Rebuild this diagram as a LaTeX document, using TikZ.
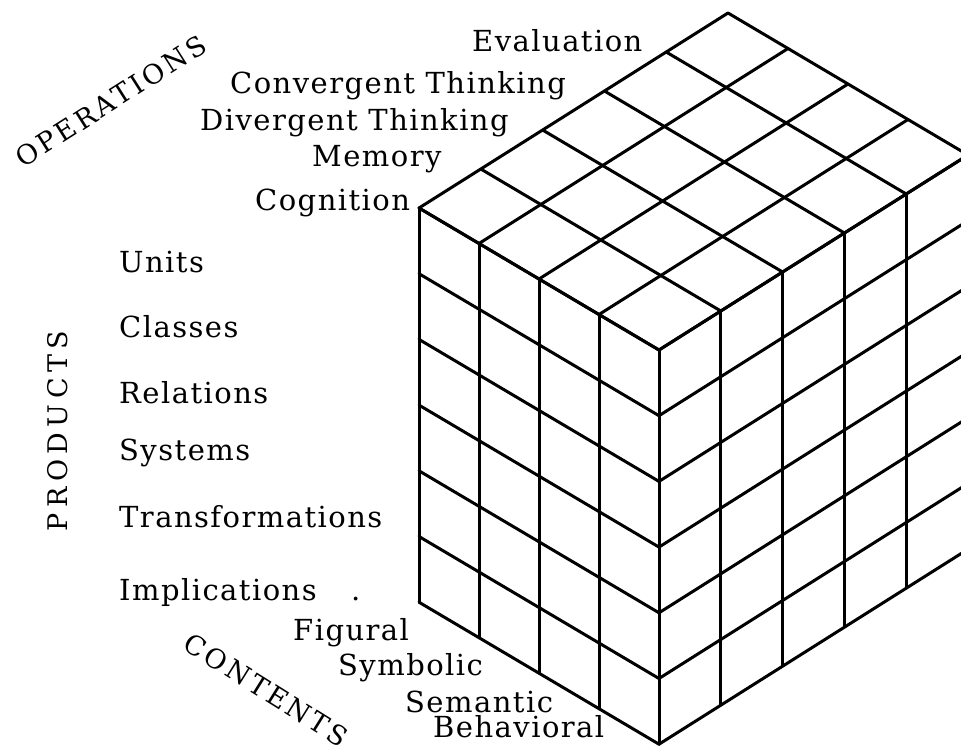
\documentclass[tikz,border=0pt]{standalone}
\usepackage{fontspec}
\setmainfont{DejaVu Serif}[LetterSpace=5]
\newfontfamily\capsfont{DejaVu Serif}[LetterSpace=12]
\newfontfamily\prodfont{DejaVu Serif}[LetterSpace=20]
\begin{document}
\begin{tikzpicture}[x=1pt,y=-1pt,
  grid/.style={line width=3pt, line cap=round, line join=round, black},
  lab/.style={anchor=base west, inner sep=0pt, font=\fontsize{29}{33}\selectfont},
  axislab/.style={inner sep=0pt, font=\capsfont\fontsize{27}{30}\selectfont},
  prodlab/.style={inner sep=0pt, font=\prodfont\fontsize{27}{30}\selectfont}]
\useasboundingbox (0,0) rectangle (961,750);
\begin{scope}
\clip (0,0) rectangle (961,750);
% top face
\foreach \i in {0,...,4} \draw[grid] ({659-60*\i},{350-35.5*\i}) -- ++(309,-195);
\foreach \j in {0,...,5} \draw[grid] ({659+61.8*\j},{350-39*\j}) -- ++(-240,-142);
% left face
\foreach \i in {0,...,4} \draw[grid] ({659-60*\i},{350-35.5*\i}) -- ++(0,394);
\foreach \k in {0,...,6} \draw[grid] (659,{350+65.7*\k}) -- ++(-240,-142);
% right face
\foreach \j in {0,...,5} \draw[grid] ({659+61.8*\j},{350-39*\j}) -- ++(0,394);
\foreach \k in {0,...,6} \draw[grid] (659,{350+65.7*\k}) -- ++(309,-195);
\end{scope}
% operations
\node[lab] (eval) at (472,51) {Evaluation};
\node[lab] (conv) at (230,93) {Convergent Thinking};
\node[lab] (div) at (200,130) {Divergent Thinking};
\node[lab] (mem) at (312,166) {Memory};
\node[lab] (cog) at (255,210) {Cognition};
% products
\node[lab] (units) at (119,272) {Units};
\node[lab] (classes) at (119,337) {Classes};
\node[lab] (rel) at (119,403) {Relations};
\node[lab] (sys) at (119,460) {Systems};
\node[lab] (trans) at (119,527) {Transformations};
\node[lab] (impl) at (119,600) {Implications};
\node[lab] (dot) at (351,600) {.};
% contents
\node[lab] (fig) at (293,640) {Figural};
\node[lab] (sym) at (338,675) {Symbolic};
\node[lab] (sem) at (405,712) {Semantic};
\node[lab] (beh) at (433,737) {Behavioral};
% axis titles
\node[axislab, rotate=32.5] (ops) at (111,101) {OPERATIONS};
\node[prodlab, rotate=90] (prod) at (58,431) {PRODUCTS};
\node[axislab, rotate=-32] (cont) at (266,690) {CONTENTS};
\end{tikzpicture}
\end{document}
